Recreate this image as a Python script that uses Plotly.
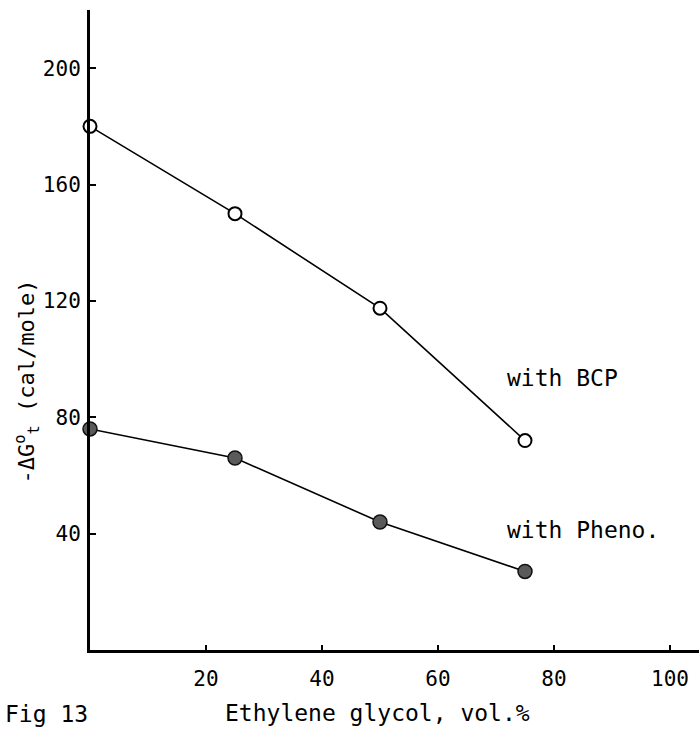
import plotly.graph_objects as go

# data
glycol_pct = [0, 25, 50, 75]
bcp_values = [180, 150, 117.5, 72]
pheno_values = [76, 66, 44, 27]
x_ticks = [20, 40, 60, 80, 100]
y_ticks = [40, 80, 120, 160, 200]

FONT = "DejaVu Sans Mono"

fig = go.Figure()
fig.add_trace(go.Scatter(
    x=glycol_pct, y=bcp_values, mode="lines+markers",
    line=dict(color="black", width=1.6),
    marker=dict(symbol="circle", size=13, color="white",
                line=dict(color="black", width=2)),
    showlegend=False, cliponaxis=False))
fig.add_trace(go.Scatter(
    x=glycol_pct, y=pheno_values, mode="lines+markers",
    line=dict(color="black", width=1.6),
    marker=dict(symbol="circle", size=14, color="#5a5a5a",
                line=dict(color="#111", width=1.5)),
    showlegend=False, cliponaxis=False))

fig.update_layout(
    width=699, height=730,
    margin=dict(l=90, r=0, t=10, b=80),
    paper_bgcolor="white", plot_bgcolor="white",
    font=dict(family=FONT, color="black", size=21),
    xaxis=dict(range=[0, 105], tickvals=x_ticks, showgrid=False, zeroline=False,
               showline=True, linecolor="black", linewidth=3,
               ticks="inside", ticklen=5, tickwidth=2, tickcolor="black",
               tickfont=dict(family=FONT, size=21), ticklabelstandoff=8),
    yaxis=dict(range=[0, 220], tickvals=y_ticks, showgrid=False, zeroline=False,
               showline=True, linecolor="black", linewidth=3,
               ticks="inside", ticklen=6, tickwidth=2, tickcolor="black",
               tickfont=dict(family=FONT, size=21), ticklabelstandoff=2),
)

fig.add_annotation(text="with BCP", x=71.5, y=93.5, xref="x", yref="y",
                   xanchor="left", yanchor="middle", showarrow=False,
                   font=dict(family=FONT, size=23))
fig.add_annotation(text="with Pheno.", x=71.5, y=41.3, xref="x", yref="y",
                   xanchor="left", yanchor="middle", showarrow=False,
                   font=dict(family=FONT, size=23))
fig.add_annotation(text="Ethylene glycol, vol.%", x=0.472, y=-0.098,
                   xref="paper", yref="paper", xanchor="center", yanchor="middle",
                   showarrow=False, font=dict(family=FONT, size=23))
fig.add_annotation(text="-ΔG<sup>o</sup><sub>t</sub> (cal/mole)", x=-0.103, y=0.42,
                   xref="paper", yref="paper", xanchor="center", yanchor="middle",
                   textangle=-90, showarrow=False, font=dict(family=FONT, size=22))
fig.add_annotation(text="Fig 13", x=0.0, y=-0.124, xref="paper", yref="paper",
                   xanchor="right", yanchor="bottom", showarrow=False,
                   font=dict(family=FONT, size=23))

fig.write_html("out.html")
